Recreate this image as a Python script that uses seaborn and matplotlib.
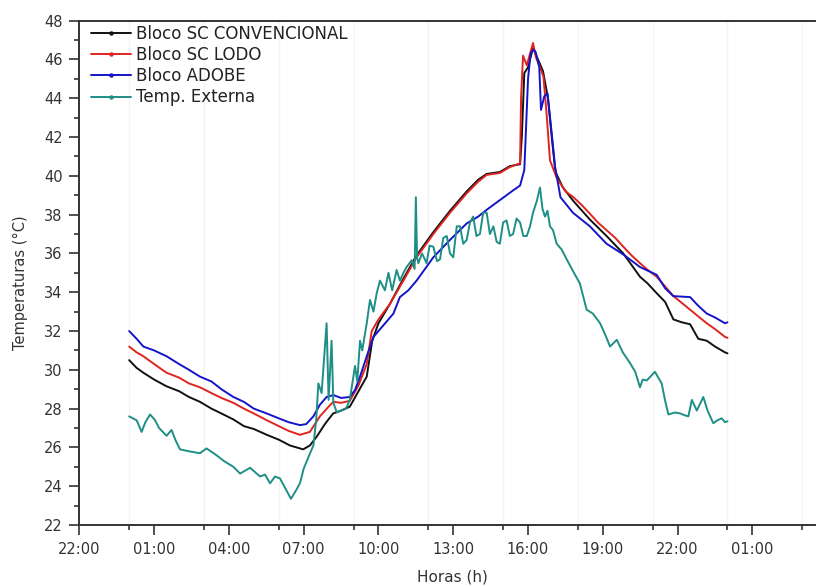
import numpy as np
import pandas as pd
import matplotlib
matplotlib.use("Agg")
import matplotlib.pyplot as plt
from matplotlib.lines import Line2D
from matplotlib.ticker import MultipleLocator
import seaborn as sns

# ---------------- data (hours since 00:00 of day 1) ----------------
conv_h = [0.0, 0.3, 0.57, 1.0, 1.5, 2.0, 2.4, 2.84, 3.3, 3.7, 4.17, 4.6, 5.0, 5.52, 6.0, 6.45, 6.98,
          7.25, 7.52, 7.85, 8.18, 8.5, 8.85, 9.2, 9.53, 9.75, 10.0, 10.46, 11.0, 11.53, 12.2, 12.87,
          13.54, 14.0, 14.34, 14.87, 15.27, 15.68, 15.75, 15.85, 16.0, 16.2, 16.4, 16.6, 16.8, 16.95,
          17.1, 17.4, 17.82, 18.48, 19.15, 19.82, 20.49, 20.8, 21.16, 21.5, 21.83, 22.17, 22.5, 22.83,
          23.17, 23.5, 23.9, 24.0]
conv_t = [30.5, 30.1, 29.85, 29.5, 29.15, 28.9, 28.6, 28.35, 28.0, 27.75, 27.45, 27.1, 26.95, 26.65,
          26.4, 26.1, 25.9, 26.1, 26.55, 27.2, 27.75, 27.9, 28.1, 28.9, 29.65, 31.5, 32.4, 33.4, 34.7,
          35.9, 37.1, 38.2, 39.2, 39.8, 40.1, 40.2, 40.5, 40.6, 42.0, 45.3, 45.6, 46.6, 46.0, 45.4,
          44.0, 42.0, 40.2, 39.4, 38.7, 37.75, 36.9, 36.0, 34.8, 34.45, 33.95, 33.5, 32.6, 32.45,
          32.35, 31.6, 31.5, 31.2, 30.9, 30.85]

lodo_h = [0.0, 0.3, 0.57, 1.0, 1.5, 2.0, 2.4, 2.84, 3.3, 3.7, 4.18, 4.6, 5.0, 5.52, 6.0, 6.4, 6.85,
          7.25, 7.65, 8.0, 8.19, 8.5, 8.85, 9.2, 9.53, 9.73, 10.0, 10.46, 11.0, 11.53, 12.2, 12.87,
          13.54, 14.0, 14.34, 14.87, 15.27, 15.68, 15.72, 15.8, 15.95, 16.08, 16.2, 16.32, 16.48,
          16.62, 16.75, 16.88, 17.15, 17.5, 17.82, 18.15, 18.48, 18.8, 19.15, 19.5, 19.82, 20.15,
          20.49, 20.8, 21.16, 21.5, 21.83, 22.17, 22.5, 22.83, 23.17, 23.5, 23.9, 24.0]
lodo_t = [31.2, 30.9, 30.7, 30.3, 29.85, 29.6, 29.3, 29.1, 28.8, 28.55, 28.3, 28.0, 27.75, 27.4,
          27.1, 26.85, 26.65, 26.8, 27.6, 28.1, 28.35, 28.3, 28.4, 29.2, 30.3, 32.0, 32.6, 33.4,
          34.6, 35.8, 37.0, 38.1, 39.1, 39.7, 40.05, 40.15, 40.45, 40.65, 44.0, 46.2, 45.7, 46.3,
          46.85, 46.1, 45.6, 45.1, 43.1, 40.8, 39.9, 39.2, 38.9, 38.5, 38.05, 37.6, 37.2, 36.8,
          36.35, 35.9, 35.5, 35.15, 34.8, 34.3, 33.8, 33.45, 33.1, 32.75, 32.4, 32.1, 31.7, 31.65]

adobe_h = [0.0, 0.3, 0.57, 1.0, 1.5, 2.0, 2.4, 2.84, 3.3, 3.7, 4.18, 4.6, 5.0, 5.52, 6.0, 6.4, 6.85,
           7.1, 7.39, 7.65, 7.92, 8.19, 8.5, 8.85, 9.06, 9.26, 9.53, 9.8, 10.2, 10.6, 10.86, 11.2,
           11.53, 12.2, 12.87, 13.54, 14.0, 14.34, 14.87, 15.4, 15.68, 15.85, 16.0, 16.1, 16.2, 16.3,
           16.45, 16.52, 16.65, 16.78, 16.95, 17.08, 17.3, 17.8, 18.48, 19.15, 19.82, 20.49, 21.16,
           21.5, 21.83, 22.5, 22.83, 23.17, 23.5, 23.9, 24.0]
adobe_t = [32.0, 31.6, 31.2, 31.0, 30.7, 30.3, 30.0, 29.65, 29.4, 29.0, 28.6, 28.35, 28.0, 27.75,
           27.5, 27.3, 27.15, 27.2, 27.6, 28.2, 28.6, 28.7, 28.55, 28.6, 28.96, 29.65, 30.7, 31.7,
           32.3, 32.9, 33.75, 34.1, 34.6, 35.8, 36.7, 37.55, 37.9, 38.25, 38.75, 39.25, 39.5, 40.3,
           45.0, 46.3, 46.5, 46.4, 45.6, 43.4, 44.1, 44.25, 42.2, 40.5, 38.9, 38.1, 37.4, 36.5,
           35.95, 35.3, 34.9, 34.2, 33.8, 33.75, 33.3, 32.9, 32.7, 32.4, 32.45]

ext_h = [0.0, 0.15, 0.3, 0.5, 0.65, 0.84, 1.04, 1.2, 1.5, 1.7, 1.85, 2.04, 2.4, 2.84, 3.1, 3.5, 3.8,
         4.18, 4.45, 4.85, 5.25, 5.45, 5.65, 5.85, 6.05, 6.3, 6.49, 6.7, 6.85, 7.0, 7.19, 7.39, 7.5,
         7.59, 7.72, 7.92, 8.0, 8.12, 8.19, 8.33, 8.5, 8.7, 8.85, 9.06, 9.15, 9.26, 9.35, 9.53, 9.66,
         9.8, 9.93, 10.06, 10.26, 10.4, 10.55, 10.73, 10.86, 11.0, 11.13, 11.33, 11.45, 11.5, 11.55,
         11.6, 11.75, 11.93, 12.05, 12.2, 12.35, 12.47, 12.6, 12.74, 12.87, 13.0, 13.14, 13.27, 13.4,
         13.54, 13.67, 13.8, 13.93, 14.07, 14.2, 14.34, 14.47, 14.61, 14.74, 14.87, 15.0, 15.14,
         15.27, 15.4, 15.54, 15.68, 15.81, 15.95, 16.08, 16.2, 16.35, 16.48, 16.58, 16.68, 16.78,
         16.88, 17.0, 17.15, 17.35, 17.55, 17.8, 18.08, 18.35, 18.6, 18.89, 19.1, 19.29, 19.56,
         19.8, 20.09, 20.3, 20.49, 20.6, 20.76, 21.09, 21.36, 21.5, 21.63, 21.9, 22.1, 22.3, 22.43,
         22.57, 22.77, 23.03, 23.2, 23.43, 23.6, 23.77, 23.9, 24.0]
ext_t = [27.6, 27.5, 27.4, 26.8, 27.3, 27.7, 27.4, 27.0, 26.6, 26.9, 26.4, 25.9, 25.8, 25.7, 25.95,
         25.6, 25.3, 25.0, 24.65, 24.95, 24.5, 24.6, 24.15, 24.5, 24.4, 23.8, 23.35, 23.8, 24.15,
         24.9, 25.5, 26.1, 27.4, 29.3, 28.8, 32.4, 28.45, 31.5, 28.3, 27.8, 27.9, 28.0, 28.45, 30.2,
         29.4, 31.5, 31.0, 32.4, 33.6, 33.0, 33.95, 34.6, 34.1, 35.0, 34.1, 35.15, 34.6, 35.0, 35.3,
         35.65, 35.2, 38.9, 35.8, 35.5, 36.0, 35.5, 36.4, 36.35, 35.6, 35.7, 36.8, 36.9, 36.0, 35.8,
         37.4, 37.4, 36.5, 36.7, 37.6, 37.9, 36.9, 37.0, 38.1, 38.1, 37.0, 37.4, 36.6, 36.5, 37.6,
         37.7, 36.9, 37.0, 37.8, 37.6, 36.9, 36.9, 37.4, 38.1, 38.7, 39.4, 38.3, 37.9, 38.2, 37.4,
         37.2, 36.5, 36.2, 35.7, 35.1, 34.45, 33.1, 32.9, 32.4, 31.8, 31.2, 31.55, 30.9, 30.35,
         29.9, 29.1, 29.5, 29.45, 29.9, 29.3, 28.4, 27.7, 27.8, 27.75, 27.65, 27.6, 28.45, 27.9,
         28.6, 27.9, 27.25, 27.4, 27.5, 27.3, 27.35]

series_names = ["Bloco SC CONVENCIONAL", "Bloco SC LODO", "Bloco ADOBE", "Temp. Externa"]
series_colors = ["#111111", "#e0241f", "#1414c8", "#1e8f87"]

tick_hours = [-2, 1, 4, 7, 10, 13, 16, 19, 22, 25]
tick_labels = ["22:00", "01:00", "04:00", "07:00", "10:00", "13:00", "16:00", "19:00", "22:00", "01:00"]

# ---------------- build long-form table ----------------
frames = []
for name, hh, tt in zip(series_names,
                        [conv_h, lodo_h, adobe_h, ext_h],
                        [conv_t, lodo_t, adobe_t, ext_t]):
    frames.append(pd.DataFrame({"h": hh, "T": tt, "serie": name}))
df = pd.concat(frames, ignore_index=True)

sns.set_theme(style="ticks")
plt.rcParams["font.family"] = ["DejaVu Sans"]

W, H = 816, 586
fig = plt.figure(figsize=(W / 100, H / 100), dpi=100)
x0, x1 = 79.3, 816.0
y_top, y_bot = 20.7, 525.0
ax = fig.add_axes([x0 / W, 1 - y_bot / H, (x1 - x0) / W, (y_bot - y_top) / H])

sns.lineplot(data=df, x="h", y="T", hue="serie", hue_order=series_names,
             palette=dict(zip(series_names, series_colors)), sort=False,
             estimator=None, linewidth=1.4, legend=False, ax=ax)

ax.set_xlim(-2, -2 + (x1 - x0) / 24.93)
ax.set_ylim(22, 48)

ax.set_xticks(tick_hours)
ax.set_xticklabels(tick_labels)
ax.xaxis.set_minor_locator(MultipleLocator(3))
ax.yaxis.set_major_locator(MultipleLocator(2))
ax.yaxis.set_minor_locator(MultipleLocator(1))

ax.tick_params(axis="both", which="major", direction="out", length=7, width=1.2,
               labelsize=10.5, colors="#333333", pad=3)
ax.tick_params(axis="both", which="minor", direction="out", length=3.5, width=1.2,
               colors="#333333")
ax.tick_params(axis="x", which="major", pad=5)
ax.tick_params(axis="y", which="major", pad=5)

ax.grid(which="minor", axis="x", color="#f4f4f4", linewidth=1.0)
ax.set_axisbelow(True)

for s in ["left", "bottom", "top"]:
    ax.spines[s].set_linewidth(1.4)
    ax.spines[s].set_color("#333333")
ax.spines["right"].set_visible(False)

ax.set_xlabel("Horas (h)", fontsize=11, color="#333333")
ax.set_ylabel("Temperaturas (°C)", fontsize=10.5, color="#333333")
ax.xaxis.set_label_coords((452.5 - x0) / (x1 - x0), -(570 - y_bot) / (y_bot - y_top))
ax.yaxis.set_label_coords((28 - x0) / (x1 - x0), 0.48)

handles = [Line2D([0], [0], color=c, lw=1.4, marker="o", markersize=2.2) for c in series_colors]
leg = ax.legend(handles, series_names, loc="upper left", frameon=False, fontsize=12,
                handlelength=2.4, handletextpad=0.28, labelspacing=0.19, numpoints=1,
                bbox_to_anchor=((91 - x0) / (x1 - x0), 1.0 - (25 - y_top) / (y_bot - y_top)),
                borderaxespad=0, borderpad=0)
for t in leg.get_texts():
    t.set_color("#222222")

fig.savefig("out.png", dpi=100)
